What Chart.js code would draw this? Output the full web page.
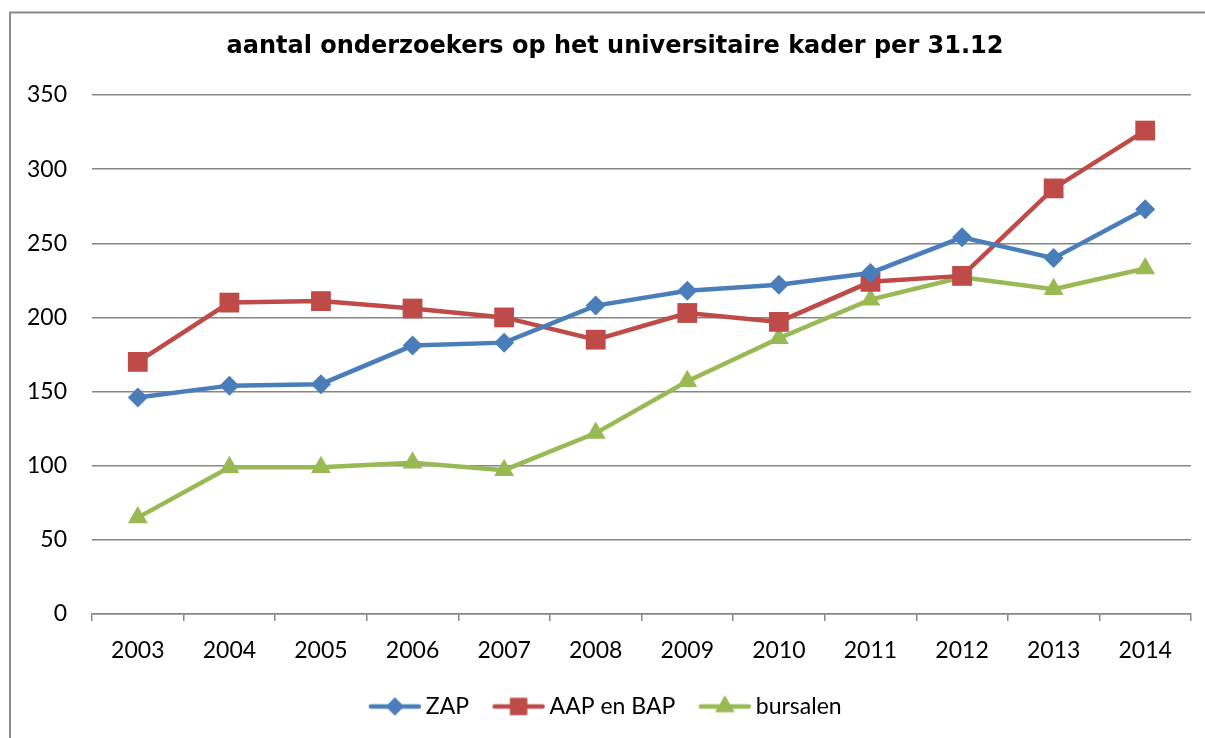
<!DOCTYPE html>
<html>
<head>
<meta charset="utf-8">
<script src="https://cdn.jsdelivr.net/npm/chart.js@4/dist/chart.umd.min.js"></script>
<style>
  html, body { margin: 0; padding: 0; background: #fff; overflow: hidden; }
  #wrap { position: relative; width: 1205px; height: 738px; }
  canvas { display: block; }
</style>
</head>
<body>
<div id="wrap"><canvas id="c" width="1205" height="738"></canvas></div>
<script>
// Years on the x axis
const years = ['2003','2004','2005','2006','2007','2008','2009','2010','2011','2012','2013','2014'];

// Number of researchers per category (situation on 31.12)
const zap      = [146, 154, 155, 181, 183, 208, 218, 222, 230, 254, 240, 273];
const aapBap   = [170, 210, 211, 206, 200, 185, 203, 197, 224, 228, 287, 326];
const bursalen = [ 65,  99,  99, 102,  97, 122, 157, 186, 212, 227, 219, 233];

const seriesNames = ['ZAP', 'AAP en BAP', 'bursalen'];
const chartTitle = 'aantal onderzoekers op het universitaire kader per 31.12';

const BLUE = '#4a7ebb', RED = '#be4b48', GREEN = '#98b954';
const FONT = 'Lato, "Open Sans", sans-serif';

// Legend swatch: a short line with the series marker in the middle
function legendSwatch(color, style, radius) {
  const cv = document.createElement('canvas');
  cv.width = 62; cv.height = 30;
  const g = cv.getContext('2d');
  g.strokeStyle = color;
  g.lineWidth = 4.5;
  g.lineCap = 'round';
  g.beginPath(); g.moveTo(10, 15); g.lineTo(58, 15); g.stroke();
  g.fillStyle = color;
  Chart.helpers.drawPoint(g, {pointStyle: style, radius: radius, rotation: 0, borderWidth: 0}, 34, 15);
  g.fill();
  return cv;
}

// Outer frame and heading of the chart
const framePlugin = {
  id: 'frame',
  beforeDraw(chart) {
    const ctx = chart.ctx;
    ctx.save();
    ctx.fillStyle = '#fff';
    ctx.fillRect(0, 0, chart.width, chart.height);
    ctx.strokeStyle = '#8c8c8c';
    ctx.lineWidth = 2;
    ctx.strokeRect(10, 12.5, chart.width + 20, chart.height + 20);
    ctx.fillStyle = '#000';
    ctx.font = 'bold 24px "DejaVu Sans", Verdana, sans-serif';
    ctx.textAlign = 'center';
    ctx.textBaseline = 'middle';
    ctx.fillText(chartTitle, 615, 47);
    ctx.restore();
  }
};

const markers = [
  {style: 'rectRot', radius: 10, legendRadius: 9},
  {style: 'rect', radius: 14, legendRadius: 12},
  {style: 'triangle', radius: 11.5, legendRadius: 11}
];
const colors = [BLUE, RED, GREEN];
const values = [zap, aapBap, bursalen];

const datasets = values.map((v, i) => ({
  label: seriesNames[i],
  data: v,
  borderColor: colors[i],
  backgroundColor: colors[i],
  borderWidth: 4.5,
  pointStyle: markers[i].style,
  pointRadius: markers[i].radius,
  pointHoverRadius: markers[i].radius,
  pointBorderWidth: 0,
  pointBackgroundColor: colors[i],
  tension: 0,
  fill: false
}));

const swatches = colors.map((c, i) => legendSwatch(c, markers[i].style, markers[i].legendRadius));

new Chart(document.getElementById('c'), {
  type: 'line',
  data: { labels: years, datasets: datasets },
  options: {
    responsive: false,
    animation: false,
    layout: { padding: { left: 20, right: 14, top: 95, bottom: 10 } },
    plugins: {
      tooltip: { enabled: false },
      title: { display: false },
      legend: {
        position: 'bottom',
        labels: {
          usePointStyle: true,
          pointStyleWidth: 45,
          padding: 24,
          color: '#000',
          font: { family: FONT, size: 23 },
          generateLabels(chart) {
            return chart.data.datasets.map((ds, i) => ({
              text: ds.label,
              pointStyle: swatches[i],
              fillStyle: ds.borderColor,
              strokeStyle: ds.borderColor,
              lineWidth: 0,
              hidden: false,
              datasetIndex: i,
              fontColor: '#000'
            }));
          }
        }
      }
    },
    scales: {
      x: {
        offset: true,
        grid: {
          display: true,
          offset: true,
          drawOnChartArea: false,
          drawTicks: true,
          tickLength: 7,
          color: '#868686',
          lineWidth: 1.5
        },
        border: { display: true, color: '#868686', width: 1.5 },
        ticks: { color: '#000', font: { family: FONT, size: 23 }, padding: 16, maxRotation: 0 },
        afterFit(scale) { scale.height = 57; }
      },
      y: {
        min: 0,
        max: 350,
        ticks: { stepSize: 50, color: '#000', font: { family: FONT, size: 23 }, padding: 25 },
        grid: { color: '#868686', lineWidth: 1.5, drawTicks: false },
        border: { display: false },
        afterFit(scale) { scale.width = 72; }
      }
    }
  },
  plugins: [framePlugin]
});
</script>
</body>
</html>
